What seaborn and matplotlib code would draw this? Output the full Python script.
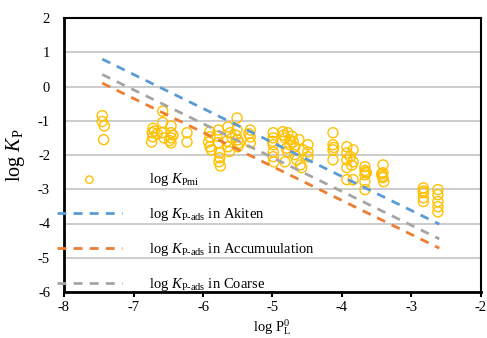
import matplotlib
matplotlib.use("Agg")
import matplotlib.pyplot as plt
import seaborn as sns
import pandas as pd

# ---- data -------------------------------------------------------------
pmi_x = [-7.45, -7.45, -7.42, -7.43,
         -6.72, -6.73, -6.72, -6.74, -6.70, -6.66,
         -6.58, -6.58, -6.59, -6.56,
         -6.46, -6.46, -6.46, -6.46, -6.43, -6.48,
         -6.23, -6.23,
         -5.90, -5.90, -5.90, -5.92, -5.88,
         -5.78, -5.78, -5.76, -5.76, -5.77, -5.75, -5.80,
         -5.64, -5.64, -5.61, -5.58, -5.66, -5.62,
         -5.51, -5.51, -5.50, -5.50, -5.53, -5.48,
         -5.32, -5.32, -5.32, -5.34,
         -4.99, -4.99, -4.99, -4.99, -4.98, -5.00, -4.99,
         -4.85, -4.82, -4.78, -4.75, -4.75, -4.78, -4.68, -4.65, -4.68, -4.82,
         -4.60, -4.58, -4.56, -4.49, -4.49, -4.49, -4.72, -4.62, -4.70, -4.84, -4.80,
         -4.13, -4.13, -4.13, -4.13, -4.12,
         -3.93, -3.93, -3.93, -3.93, -3.93, -3.84, -3.84, -3.84, -3.88, -3.86,
         -3.67, -3.67, -3.67, -3.67, -3.67, -3.66, -3.65,
         -3.41, -3.41, -3.43, -3.41, -3.40, -3.42,
         -2.83, -2.83, -2.83, -2.83, -2.83,
         -2.62, -2.62, -2.62, -2.62, -2.62]
pmi_y = [-0.85, -1.02, -1.15, -1.55,
         -1.22, -1.35, -1.47, -1.62, -1.30, -1.38,
         -0.72, -1.05, -1.35, -1.50,
         -1.15, -1.35, -1.50, -1.65, -1.42, -1.58,
         -1.35, -1.62,
         -1.32, -1.47, -1.76, -1.62, -1.85,
         -1.27, -1.64, -1.94, -2.08, -2.20, -2.32, -1.45,
         -1.18, -1.76, -1.35, -1.50, -1.60, -1.90,
         -0.92, -1.27, -1.56, -1.76, -1.42, -1.65,
         -1.27, -1.47, -1.64, -1.38,
         -1.35, -1.50, -1.70, -1.91, -2.20, -1.60, -2.05,
         -1.32, -1.50, -1.35, -1.56, -1.70, -1.91, -1.99, -2.14, -1.76, -2.20,
         -2.29, -2.37, -1.85, -1.70, -1.91, -2.05, -1.45, -1.55, -1.62, -1.42, -1.80,
         -1.35, -1.70, -1.85, -2.14, -1.78,
         -1.76, -1.94, -2.14, -2.37, -2.72, -1.85, -2.20, -2.72, -2.05, -2.30,
         -2.34, -2.45, -2.58, -2.78, -3.01, -2.50, -2.52,
         -2.29, -2.52, -2.55, -2.66, -2.78, -2.62,
         -2.96, -3.10, -3.25, -3.36, -3.05,
         -3.01, -3.16, -3.36, -3.51, -3.66]

ads_x = [-7.45, -2.60]
akiten_y = [0.80, -4.02]
accum_y = [0.10, -4.72]
coarse_y = [0.35, -4.45]

labels = [r"log $K$$_{\mathrm{Pmi}}$",
          r"log $K$$_{\text{P-ads}}$ in Akiten",
          r"log $K$$_{\text{P-ads}}$ in Accumuulation",
          r"log $K$$_{\text{P-ads}}$ in Coarse"]
x_ticks = [-8, -7, -6, -5, -4, -3, -2]
y_ticks = [-6, -5, -4, -3, -2, -1, 0, 1, 2]

# ---- style ------------------------------------------------------------
sns.set_theme(style="white")
plt.rcParams["font.family"] = ["Liberation Serif", "DejaVu Serif"]
plt.rcParams["mathtext.fontset"] = "custom"
plt.rcParams["mathtext.rm"] = "Liberation Serif"
plt.rcParams["mathtext.it"] = "Liberation Serif:italic"
plt.rcParams["mathtext.bf"] = "Liberation Serif:bold"
plt.rcParams["axes.unicode_minus"] = False

fig = plt.figure(figsize=(4.87, 3.38), dpi=100)
ax = fig.add_axes([64/487, 1-292/338, 417/487, 274/338])

pmi_df = pd.DataFrame({"x": pmi_x, "y": pmi_y})
sns.scatterplot(data=pmi_df, x="x", y="y", ax=ax, s=52, marker="o",
                facecolor="none", edgecolor="#FFC000", linewidth=1.0,
                zorder=3, label=labels[0])

dash = (0, (3.2, 2.6))
line_sets = [(akiten_y, "#5B9BD5", labels[1]),
             (accum_y, "#ED7D31", labels[2]),
             (coarse_y, "#A5A5A5", labels[3])]
for ys, col, lab in line_sets:
    sns.lineplot(x=ads_x, y=ys, ax=ax, color=col, linewidth=2.0,
                 linestyle=dash, zorder=4, label=lab)

ax.set_xlim(-8, -2)
ax.set_ylim(-6, 2)
ax.set_xticks(x_ticks)
ax.set_yticks(y_ticks)
ax.set_xticklabels([str(v) for v in x_ticks])
ax.set_yticklabels([str(v) for v in y_ticks])

ax.yaxis.grid(True, color="#BFBFBF", linewidth=1.1)
ax.xaxis.grid(False)
ax.set_axisbelow(True)

for side in ["left", "bottom"]:
    ax.spines[side].set_linewidth(2.0)
    ax.spines[side].set_color("black")
for side in ["top", "right"]:
    ax.spines[side].set_linewidth(1.5)
    ax.spines[side].set_color("black")
    ax.spines[side].set_visible(True)

ax.tick_params(axis="x", direction="out", length=3.8, width=1.5, color="black",
               labelsize=10.5, pad=3, bottom=True)
ax.tick_params(axis="y", length=0, labelsize=10.5, pad=10)
for t in ax.get_xticklabels() + ax.get_yticklabels():
    t.set_color("black")

ax.set_xlabel(r"log $\mathrm{P}^{0}_{\mathrm{L}}$", fontsize=10.5, color="black")
ax.set_ylabel(r"log $K$$_{\mathrm{P}}$", fontsize=14.5, color="black")
ax.xaxis.set_label_coords(0.5, -0.092)
ax.yaxis.set_label_coords(-0.088, 0.5)

leg = ax.legend(loc="upper left", bbox_to_anchor=(-0.017, 0.44),
                frameon=False, fontsize=10.5, borderpad=0, borderaxespad=0,
                handlelength=4.45, handletextpad=1.85, labelspacing=1.22,
                scatterpoints=1)
leg.legend_handles[0].set_sizes([28])
for t in leg.get_texts():
    t.set_color("black")

fig.savefig("out.png", dpi=100)
